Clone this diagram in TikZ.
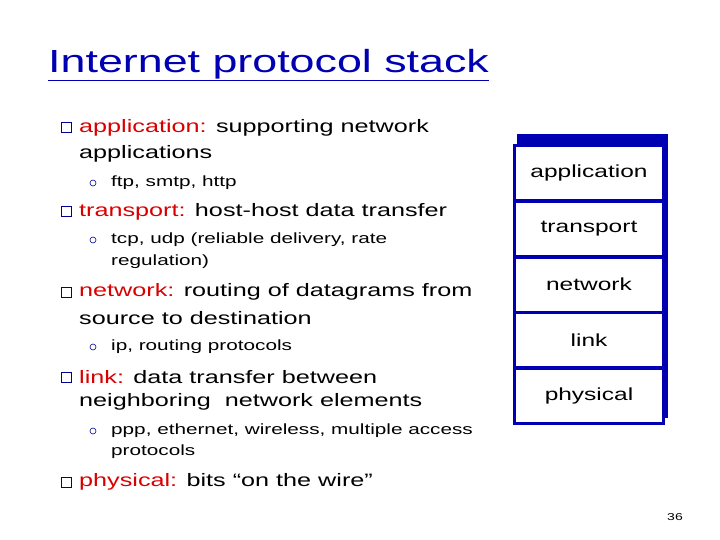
\documentclass[tikz,border=0pt]{standalone}
\usepackage{fontspec}
\setmainfont{Liberation Sans}[FakeStretch=1.4]
\begin{document}
\begin{tikzpicture}[x=1pt,y=-1pt,
  body/.style={anchor=west,inner sep=0pt,font=\fontsize{18}{20}\selectfont},
  sub/.style={anchor=west,inner sep=0pt,font=\fontsize{14.8}{16}\selectfont},
  bul/.style={draw=blue!60!black,line width=1pt,minimum size=10pt,inner sep=0pt},
  sbul/.style={circle,draw=blue!60!black,line width=0.6pt,minimum size=6pt,inner sep=0pt},
  layer/.style={draw=blue!70!black,line width=2.5pt,fill=white,minimum width=149pt,minimum height=54.5pt,inner sep=0pt,font=\fontsize{17.5}{19}\selectfont}]
\useasboundingbox (0,0) rectangle (720,540);
\node[anchor=west,inner sep=0pt,text=blue!70!black,font=\fontsize{32}{34}\selectfont] (t) at (48,65) {\underline{Internet protocol stack}};
% bullets
\node[bul] (b1) at (66,128) {};
\node[body] (l1) at (79,128) {\textcolor{red!85!black}{application:} supporting network};
\node[body] (l1b) at (79,154) {applications};
\node[sbul] (s1) at (93,183) {};
\node[sub] (s1t) at (111,183) {ftp, smtp, http};
\node[bul] (b2) at (66,212) {};
\node[body] (l2) at (79,212) {\textcolor{red!85!black}{transport:} host-host data transfer};
\node[sbul] (s2) at (93,240) {};
\node[sub] (s2t) at (111,240) {tcp, udp (reliable delivery, rate};
\node[sub] (s2u) at (111,262) {regulation)};
\node[bul] (b3) at (66,292) {};
\node[body] (l3) at (79,292) {\textcolor{red!85!black}{network:} routing of datagrams from};
\node[body] (l3b) at (79,318) {source to destination};
\node[sbul] (s3) at (93,347) {};
\node[sub] (s3t) at (111,347) {ip, routing protocols};
\node[bul] (b4) at (66,377) {};
\node[body] (l4) at (79,377) {\textcolor{red!85!black}{link:} data transfer between};
\node[body] (l4b) at (79,402) {neighboring\ \ network elements};
\node[sbul] (s4) at (93,431) {};
\node[sub] (s4t) at (111,431) {ppp, ethernet, wireless, multiple access};
\node[sub] (s4u) at (111,452) {protocols};
\node[bul] (b5) at (66,482) {};
\node[body] (l5) at (79,482) {\textcolor{red!85!black}{physical:} bits ``on the wire''};
% stack
\fill[blue!70!black] (517,134) rectangle (668,418);
\node[layer] (app) at (589,173) {application};
\node[layer,anchor=north] (tra) at ([yshift=1.25pt]app.south) {transport};
\node[layer,anchor=north] (net) at ([yshift=1.25pt]tra.south) {network};
\node[layer,anchor=north] (lnk) at ([yshift=1.25pt]net.south) {link};
\node[layer,anchor=north] (phy) at ([yshift=1.25pt]lnk.south) {physical};
\node[inner sep=0pt,font=\fontsize{10}{12}\selectfont] (pg) at (675,517) {36};
\end{tikzpicture}
\end{document}
